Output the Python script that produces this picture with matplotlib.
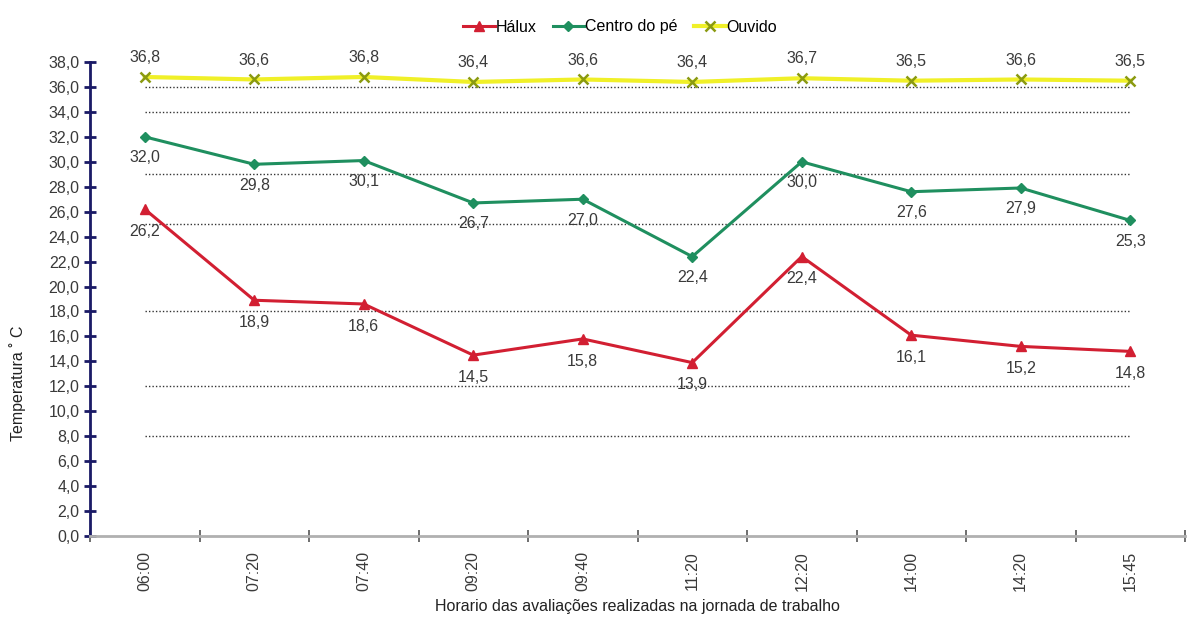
import matplotlib
matplotlib.use("Agg")
import matplotlib.pyplot as plt
from matplotlib.ticker import FixedLocator, FuncFormatter

plt.rcParams['font.family'] = ['Liberation Sans', 'DejaVu Sans']

categories = ["06:00", "07:20", "07:40", "09:20", "09:40", "11:20", "12:20", "14:00", "14:20", "15:45"]
halux = [26.2, 18.9, 18.6, 14.5, 15.8, 13.9, 22.4, 16.1, 15.2, 14.8]
centro = [32.0, 29.8, 30.1, 26.7, 27.0, 22.4, 30.0, 27.6, 27.9, 25.3]
ouvido = [36.8, 36.6, 36.8, 36.4, 36.6, 36.4, 36.7, 36.5, 36.6, 36.5]
ref_lines = [8, 12, 18, 25, 29, 34, 36]
y_ticks = list(range(0, 39, 2))

FS = 11.5
TXT = '#3a3a3a'

fig = plt.figure(figsize=(11.88, 6.21), dpi=100)
ax = fig.add_axes([90/1188, 1-536/621, (1185-90)/1188, (536-62)/621])
x = list(range(len(categories)))

for r in ref_lines:
    ax.plot([x[0], x[-1]], [r, r], linestyle=(0, (1, 1.5)), color='#333333', lw=1.0, zorder=1)

l3, = ax.plot(x, ouvido, color='#f0f028', lw=3.0, marker='x', markersize=7,
              markeredgecolor='#8a9a10', markeredgewidth=1.8, zorder=3, label='Ouvido')
l2, = ax.plot(x, centro, color='#1f8f5f', lw=2.2, marker='D', markersize=5,
              markerfacecolor='#1f8f5f', markeredgecolor='#1f8f5f', zorder=4, label='Centro do pé')
l1, = ax.plot(x, halux, color='#d21f32', lw=2.2, marker='^', markersize=7,
              markerfacecolor='#d21f32', markeredgecolor='#d21f32', zorder=5, label='Hálux')

def fmt(v):
    return f"{v:.1f}".replace('.', ',')

for xi, v in zip(x, ouvido):
    ax.annotate(fmt(v), (xi, v), xytext=(0, 14), textcoords='offset points',
                ha='center', va='center', fontsize=FS, color=TXT, annotation_clip=False)
for xi, v in zip(x, centro):
    ax.annotate(fmt(v), (xi, v), xytext=(0, -15), textcoords='offset points',
                ha='center', va='center', fontsize=FS, color=TXT)
for xi, v in zip(x, halux):
    ax.annotate(fmt(v), (xi, v), xytext=(0, -16), textcoords='offset points',
                ha='center', va='center', fontsize=FS, color=TXT)

ax.set_xlim(-0.5, len(categories) - 0.5)
ax.set_ylim(0, 38)

for s in ['top', 'right']:
    ax.spines[s].set_visible(False)
ax.spines['left'].set_color('#1a1a66')
ax.spines['left'].set_linewidth(2)
ax.spines['bottom'].set_color('#b0b0b0')
ax.spines['bottom'].set_linewidth(2)

ax.yaxis.set_major_locator(FixedLocator(y_ticks))
ax.yaxis.set_major_formatter(FuncFormatter(lambda v, p: fmt(v)))
ax.tick_params(axis='y', direction='inout', length=9, width=2, color='#1a1a66',
               labelsize=FS, labelcolor=TXT, pad=3)

ax.set_xticks(x)
ax.set_xticklabels(categories, rotation=90)
ax.set_xticks([i - 0.5 for i in range(len(categories) + 1)], minor=True)
ax.tick_params(axis='x', which='major', length=0, pad=11, labelsize=FS, labelcolor=TXT)
ax.tick_params(axis='x', which='minor', direction='inout', length=8, width=1.2, color='#555555')

fig.text(18/1188, 1-383/621, 'Temperatura ˚ C', rotation=90, ha='center', va='center',
         fontsize=FS, color='#222222')
fig.text(637/1188, 1-607/621, 'Horario das avaliações realizadas na jornada de trabalho',
         ha='center', va='center', fontsize=FS, color='#222222')

fig.legend(handles=[l1, l2, l3], loc='center', bbox_to_anchor=(620/1188, 1-27/621), ncol=3,
           frameon=False, fontsize=FS, handlelength=2.0, handletextpad=0.05, columnspacing=1.0)

fig.savefig('out.png', dpi=100)
